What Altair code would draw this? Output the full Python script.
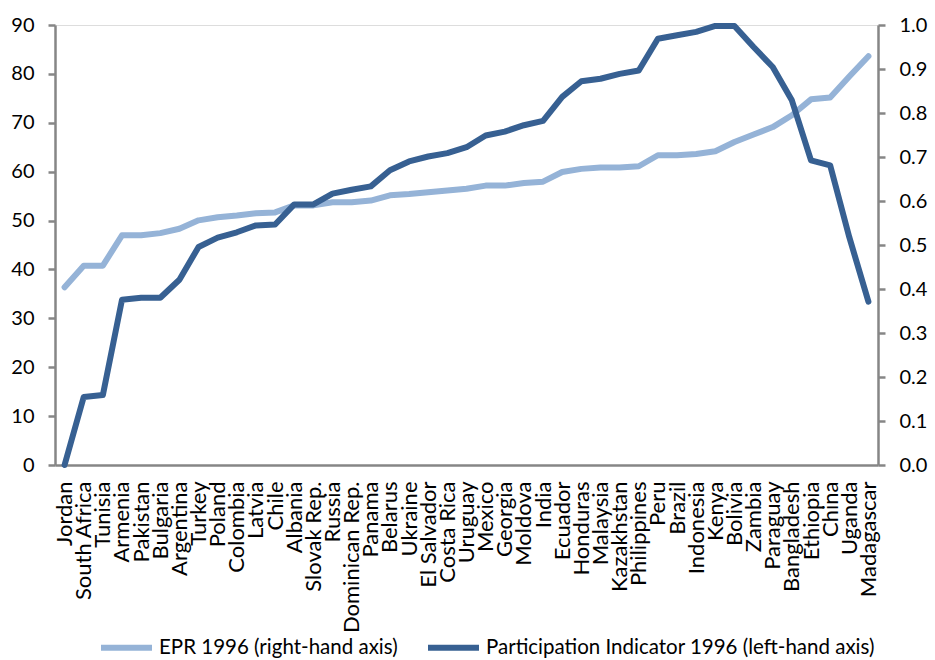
import altair as alt
import pandas as pd

countries = [
    "Jordan", "South Africa", "Tunisia", "Armenia", "Pakistan", "Bulgaria",
    "Argentina", "Turkey", "Poland", "Colombia", "Latvia", "Chile", "Albania",
    "Slovak Rep.", "Russia", "Dominican Rep.", "Panama", "Belarus", "Ukraine",
    "El Salvador", "Costa Rica", "Uruguay", "Mexico", "Georgia", "Moldova",
    "India", "Ecuador", "Honduras", "Malaysia", "Kazakhstan", "Philippines",
    "Peru", "Brazil", "Indonesia", "Kenya", "Bolivia", "Zambia", "Paraguay",
    "Bangladesh", "Ethiopia", "China", "Uganda", "Madagascar",
]

# Participation indicator 1996 (left-hand axis, 0-90)
participation = [
    0.0, 13.9, 14.3, 33.8, 34.2, 34.2, 37.9, 44.6, 46.5, 47.6, 49.0, 49.2,
    53.3, 53.3, 55.5, 56.3, 57.0, 60.3, 62.1, 63.1, 63.8, 65.0, 67.4, 68.2,
    69.5, 70.4, 75.3, 78.5, 79.0, 80.0, 80.7, 87.2, 87.9, 88.6, 89.8, 89.8,
    85.5, 81.4, 74.6, 62.3, 61.3, 46.6, 33.4,
]

# EPR 1996 (right-hand axis, 0-1)
epr = [
    0.404, 0.453, 0.453, 0.522, 0.522, 0.527, 0.537, 0.556, 0.563, 0.567,
    0.572, 0.574, 0.590, 0.590, 0.597, 0.597, 0.601, 0.613, 0.616, 0.620,
    0.624, 0.628, 0.635, 0.635, 0.641, 0.644, 0.666, 0.673, 0.676, 0.676,
    0.679, 0.704, 0.704, 0.707, 0.713, 0.734, 0.751, 0.768, 0.795, 0.831,
    0.835, 0.883, 0.929,
]

EPR_LABEL = "EPR 1996 (right-hand axis)"
PART_LABEL = "Participation Indicator 1996 (left-hand axis)"

df_epr = pd.DataFrame({"country": countries, "value": epr, "series": EPR_LABEL})
df_part = pd.DataFrame({"country": countries, "value": participation, "series": PART_LABEL})

FONT = "Lato"
GREY = "#868686"
BLACK = "#000000"

color = alt.Color(
    "series:N",
    scale=alt.Scale(domain=[EPR_LABEL, PART_LABEL], range=["#95B3D7", "#376092"]),
    legend=alt.Legend(
        title=None,
        orient="none",
        legendX=43,
        legendY=594,
        direction="horizontal",
        symbolType="stroke",
        symbolStrokeWidth=6,
        symbolSize=2600,
        labelFontSize=20.5,
        labelFont=FONT,
        labelColor=BLACK,
        labelOffset=4,
        columnPadding=18,
        labelLimit=500,
    ),
)

x = alt.X(
    "country:N",
    sort=countries,
    title=None,
    axis=alt.Axis(
        labelAngle=-90,
        labelPadding=16,
        labelFontSize=22,
        labelFont=FONT,
        labelColor=BLACK,
        ticks=False,
        domainColor=GREY,
        domainWidth=2.5,
        grid=False,
    ),
)

line_epr = alt.Chart(df_epr).mark_line(
    strokeWidth=6, strokeCap="round", strokeJoin="round"
).encode(
    x=x,
    y=alt.Y(
        "value:Q",
        title=None,
        scale=alt.Scale(domain=[0, 1], nice=False),
        axis=alt.Axis(
            orient="right",
            values=[i / 10 for i in range(11)],
            format=".1f",
            labelFontSize=20,
            labelFont=FONT,
            labelColor=BLACK,
            labelPadding=14,
            tickSize=7,
            tickWidth=2.5,
            tickColor=GREY,
            domainColor=GREY,
            domainWidth=2.5,
            grid=False,
        ),
    ),
    color=color,
)

line_part = alt.Chart(df_part).mark_line(
    strokeWidth=6, strokeCap="round", strokeJoin="round"
).encode(
    x=x,
    y=alt.Y(
        "value:Q",
        title=None,
        scale=alt.Scale(domain=[0, 90], nice=False),
        axis=alt.Axis(
            orient="left",
            values=list(range(0, 91, 10)),
            labelFontSize=20,
            labelFont=FONT,
            labelColor=BLACK,
            labelPadding=14,
            tickSize=7,
            tickWidth=2.5,
            tickColor=GREY,
            domainColor=GREY,
            domainWidth=2.5,
            grid=False,
        ),
    ),
    color=color,
)

chart = (
    alt.layer(line_epr, line_part)
    .resolve_scale(y="independent")
    .properties(
        width=823,
        height=440,
        autosize="none",
        padding={"left": 55, "top": 25, "right": 57, "bottom": 195},
    )
    .configure_view(stroke=None)
    .configure(background="white")
)

chart.save("out.html", embed_options={"renderer": "svg", "actions": False})
